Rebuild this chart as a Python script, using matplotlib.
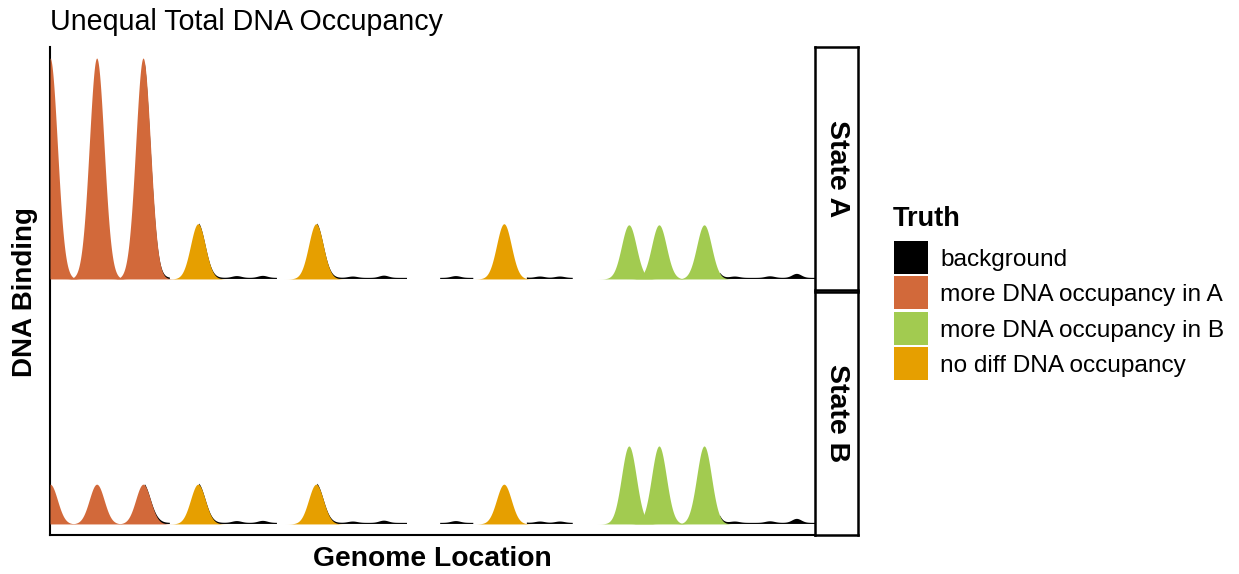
import numpy as np
import matplotlib
matplotlib.use("Agg")
import matplotlib.pyplot as plt
from matplotlib.patches import Rectangle

plt.rcParams['font.family'] = ['Liberation Sans', 'DejaVu Sans']

# --- data -------------------------------------------------------------------
genome_len = 3000
peak_sigma = 29

truth_levels = ["background", "more DNA occupancy in A",
                "more DNA occupancy in B", "no diff DNA occupancy"]
truth_colors = ["#000000", "#D2693A", "#A2CB50", "#E69F00"]

peak_pos = [0, 183, 365, 580, 1043, 1780, 2270, 2388, 2565]
peak_truth = [1, 1, 1, 3, 3, 3, 2, 2, 2]
height_a = [1.0, 1.0, 1.0, 0.25, 0.25, 0.25, 0.245, 0.245, 0.245]
height_b = [0.18, 0.18, 0.18, 0.18, 0.18, 0.18, 0.353, 0.353, 0.353]

# stretches of low background signal
bg_start = [372, 585, 1048, 1530, 1870, 2628]
bg_end = [470, 890, 1400, 1660, 2050, 3000]
bg_level = 0.005
bump_pos = [420, 733, 835, 1188, 1310, 1592, 1922, 2000, 2686, 2824, 2929]
bump_h = [0.003, 0.008, 0.009, 0.006, 0.010, 0.008, 0.006, 0.006, 0.006, 0.007, 0.018]
bump_sigma = 18

states = ["State A", "State B"]
heights = [height_a, height_b]

# --- layout helpers -----------------------------------------------------------
W, H = 1239, 574
def fx(px):
    return px / W
def fy(py):
    return 1 - py / H

x = np.linspace(0, genome_len, 6001)

def gauss(center, sigma):
    return np.exp(-0.5 * ((x - center) / sigma) ** 2)

noise = bg_level + sum(h * gauss(p, bump_sigma) for p, h in zip(bump_pos, bump_h))
in_bg = np.zeros_like(x, dtype=bool)
for s, e in zip(bg_start, bg_end):
    in_bg |= (x >= s) & (x <= e)

fig = plt.figure(figsize=(W / 100, H / 100), dpi=100)

panel_tops = [47, 292]
for i, (state, hts) in enumerate(zip(states, heights)):
    top = panel_tops[i]
    ax = fig.add_axes([fx(50), fy(top + 243), 765 / W, 243 / H])

    total = np.max([h * gauss(p, peak_sigma) for p, h in zip(peak_pos, hts)], axis=0)
    # background drawn first, each peak filled separately on top
    ax.fill_between(x, 0, total + noise, where=in_bg, color=truth_colors[0],
                    linewidth=0, zorder=1)
    for p, h, t in zip(peak_pos, hts, peak_truth):
        ax.fill_between(x, 0, h * gauss(p, peak_sigma), color=truth_colors[t],
                        linewidth=0, zorder=2 + t)

    ax.set_xlim(0, genome_len)
    ax.set_ylim(-0.05, 1.05)
    ax.set_xticks([])
    ax.set_yticks([])
    for side in ["top", "right"]:
        ax.spines[side].set_visible(False)
    ax.spines["left"].set_linewidth(1.5)
    if i == 0:
        ax.spines["bottom"].set_visible(False)
    else:
        ax.spines["bottom"].set_linewidth(1.5)

    # facet strip on the right
    sax = fig.add_axes([fx(815), fy(top + 243), 43 / W, 243 / H])
    sax.set_xticks([])
    sax.set_yticks([])
    for sp in sax.spines.values():
        sp.set_linewidth(1.8)
    sax.text(0.5, 0.5, state, rotation=-90, ha="center", va="center",
             fontsize=20.5, fontweight="bold", transform=sax.transAxes)

# titles
fig.text(fx(50), fy(30), "Unequal Total DNA Occupancy", fontsize=20.6,
         ha="left", va="baseline")
fig.text(fx(432), fy(566), "Genome Location", fontsize=20.3,
         fontweight="bold", ha="center", va="baseline")
fig.text(fx(25), fy(292), "DNA Binding", fontsize=20, fontweight="bold",
         rotation=90, ha="center", va="center")

# legend
fig.text(fx(893), fy(226), "Truth", fontsize=19.5, fontweight="bold",
         ha="left", va="baseline")
key_top = 241
for j, (lab, col) in enumerate(zip(truth_levels, truth_colors)):
    y0 = key_top + j * 35.3
    fig.patches.append(Rectangle((fx(894), fy(y0 + 33)), 34 / W, 33 / H,
                                 transform=fig.transFigure, facecolor=col,
                                 edgecolor="none"))
    fig.text(fx(940), fy(y0 + 16.5), lab, fontsize=17.6, ha="left",
             va="center_baseline")

fig.savefig("out.png", dpi=100)
